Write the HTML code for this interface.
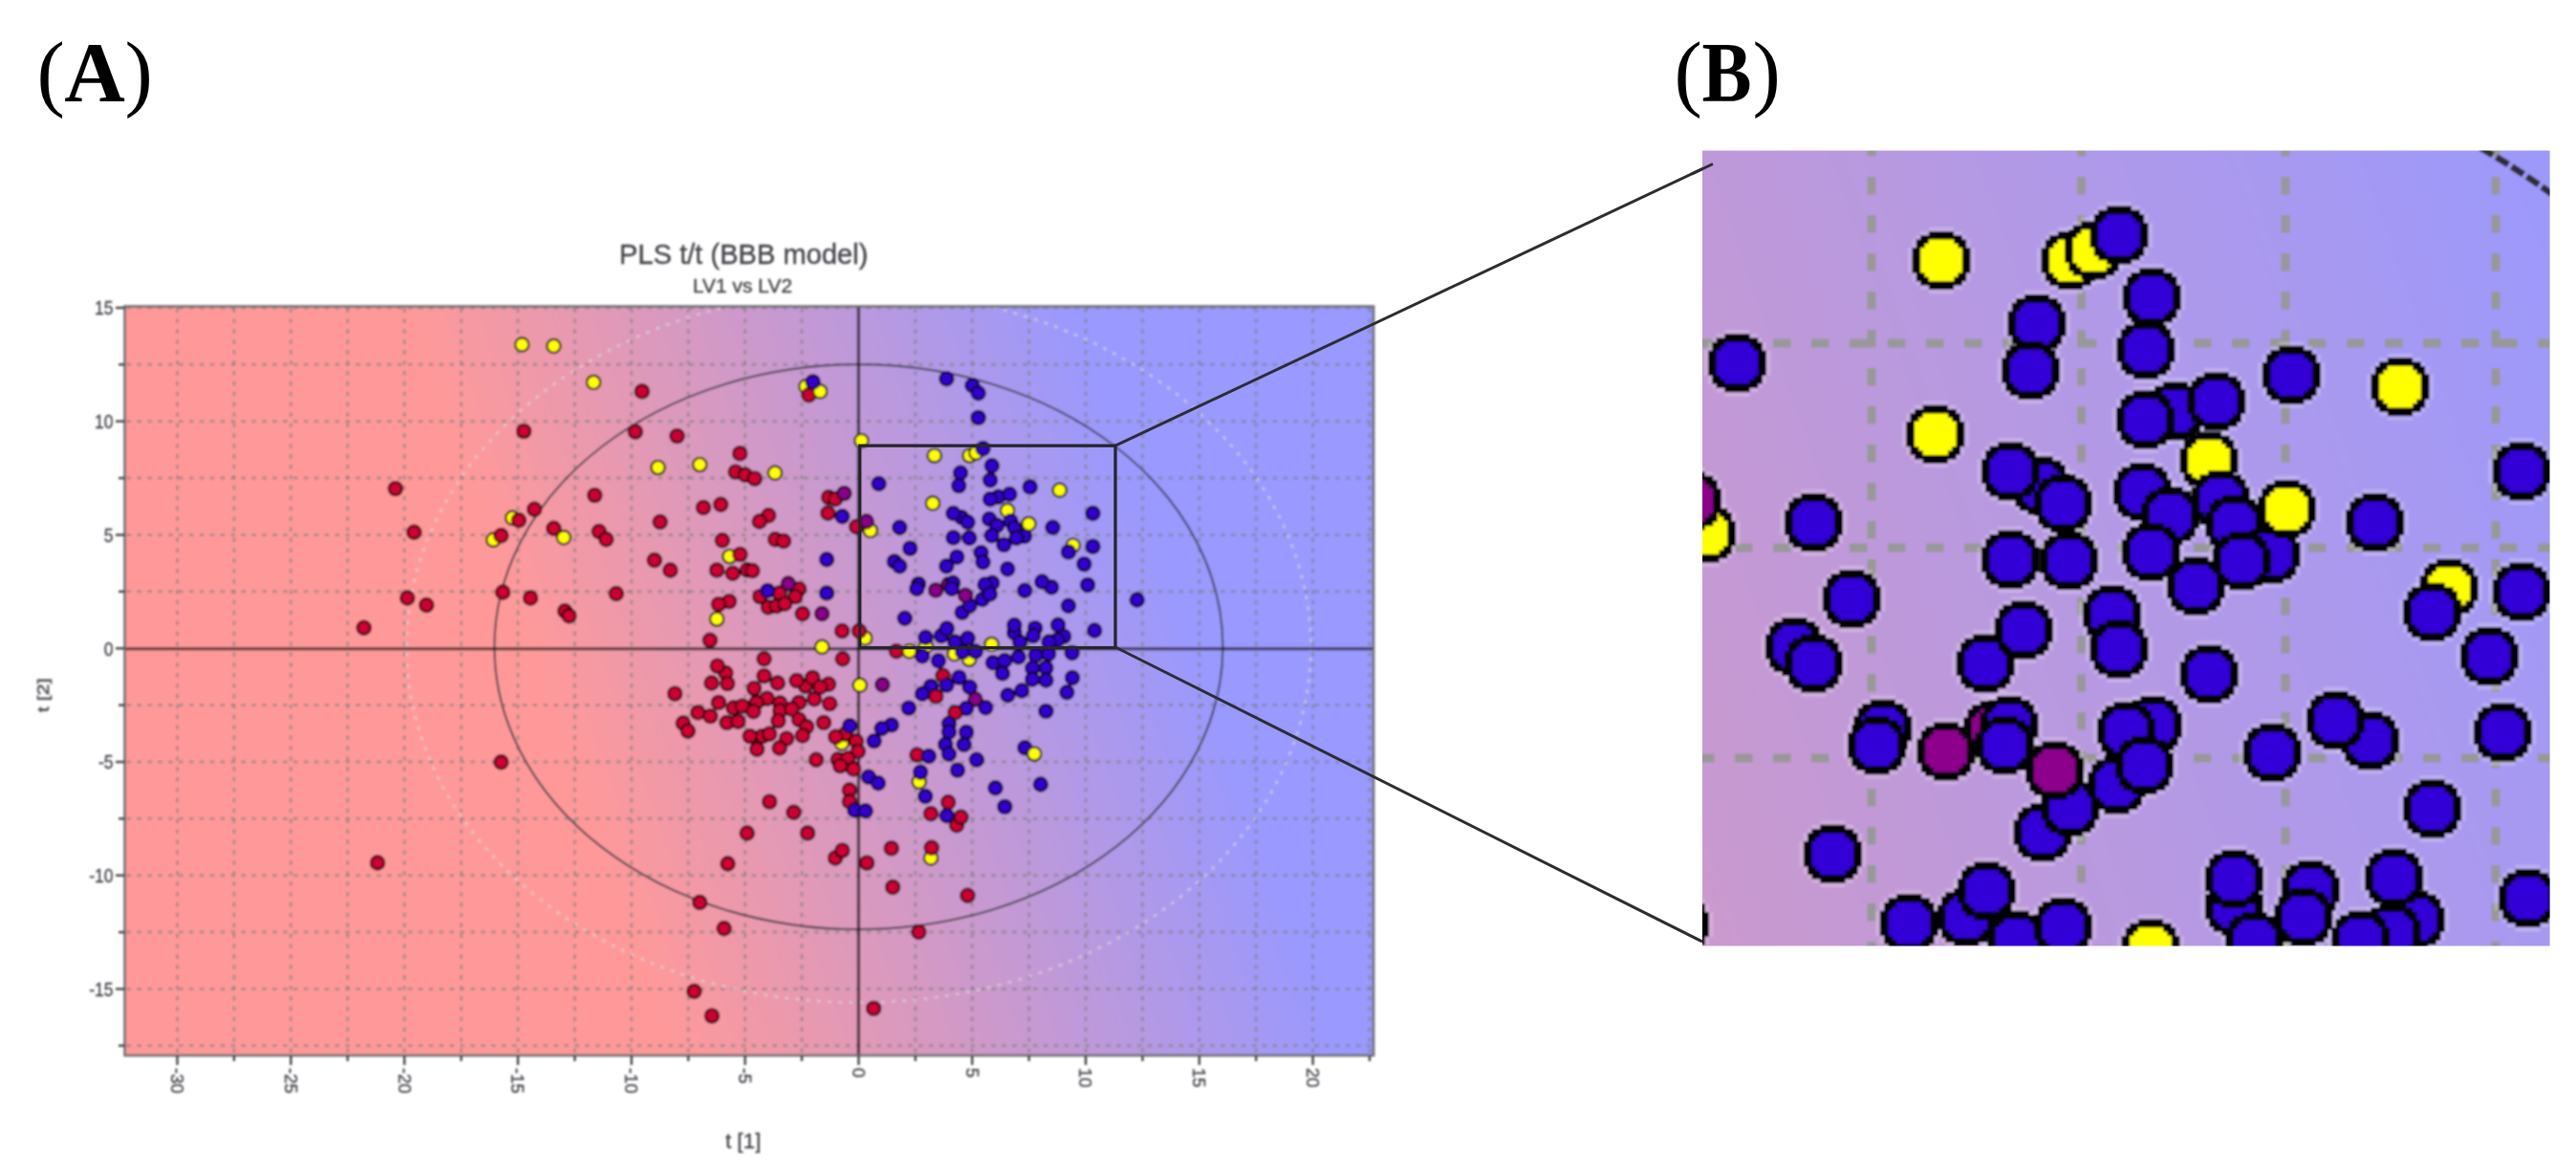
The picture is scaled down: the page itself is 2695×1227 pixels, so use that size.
<!DOCTYPE html>
<html lang="en"><head><meta charset="utf-8"><title>PLS t/t (BBB model)</title>
<style>html,body{margin:0;padding:0;background:#fff}body{width:2695px;height:1227px;overflow:hidden}svg{display:block}.ser{font-family:"Liberation Serif",serif;font-size:88px;fill:#000}.san{font-family:"Liberation Sans",sans-serif;fill:#43434a;stroke:#43434a;stroke-width:0.35px}</style></head><body>
<svg width="2695" height="1227" viewBox="0 0 2695 1227">
<defs>
<linearGradient id="ga" gradientUnits="userSpaceOnUse" x1="423.6" y1="320.5" x2="1050.5" y2="99.2"><stop offset="0" stop-color="#ff9999"/><stop offset="1" stop-color="#9999ff"/></linearGradient>
<linearGradient id="gb" gradientUnits="userSpaceOnUse" x1="0.9" y1="-296.7" x2="2298.0" y2="-1103.8"><stop offset="0" stop-color="#ff9999"/><stop offset="1" stop-color="#9999ff"/></linearGradient>
<clipPath id="ca"><rect x="130.5" y="320.5" width="1306.5" height="783.5"/></clipPath>
<clipPath id="cb"><rect x="1781" y="157.5" width="886.6" height="832"/></clipPath>
<filter id="bl" x="-5%" y="-5%" width="110%" height="110%"><feGaussianBlur stdDeviation="0.9"/></filter>
<filter id="bl2" x="-5%" y="-5%" width="110%" height="110%"><feGaussianBlur stdDeviation="1.3"/></filter>
<path id="ob" d="M13.1,-30.5 13.1,-26.2 21.8,-26.2 21.8,-21.8 26.2,-21.8 26.2,-17.4 26.2,-17.4 26.2,-13.1 30.5,-13.1 30.5,-8.7 30.5,-8.7 30.5,-4.4 30.5,-4.4 30.5,0.0 30.5,0.0 30.5,4.4 30.5,4.4 30.5,8.7 30.5,8.7 30.5,13.1 26.2,13.1 26.2,17.4 26.2,17.4 26.2,21.8 21.8,21.8 21.8,26.2 13.1,26.2 13.1,30.5 -13.1,30.5 -13.1,26.2 -21.8,26.2 -21.8,21.8 -26.2,21.8 -26.2,17.4 -26.2,17.4 -26.2,13.1 -30.5,13.1 -30.5,8.7 -30.5,8.7 -30.5,4.4 -30.5,4.4 -30.5,0.0 -30.5,0.0 -30.5,-4.4 -30.5,-4.4 -30.5,-8.7 -30.5,-8.7 -30.5,-13.1 -26.2,-13.1 -26.2,-17.4 -26.2,-17.4 -26.2,-21.8 -21.8,-21.8 -21.8,-26.2 -13.1,-26.2 -13.1,-30.5Z"/>
<path id="hb" d="M13.1,-34.9 13.1,-30.5 21.8,-30.5 21.8,-26.2 26.2,-26.2 26.2,-21.8 30.5,-21.8 30.5,-17.4 30.5,-17.4 30.5,-13.1 34.9,-13.1 34.9,-8.7 34.9,-8.7 34.9,-4.4 34.9,-4.4 34.9,0.0 34.9,0.0 34.9,4.4 34.9,4.4 34.9,8.7 34.9,8.7 34.9,13.1 30.5,13.1 30.5,17.4 30.5,17.4 30.5,21.8 26.2,21.8 26.2,26.2 21.8,26.2 21.8,30.5 13.1,30.5 13.1,34.9 -13.1,34.9 -13.1,30.5 -21.8,30.5 -21.8,26.2 -26.2,26.2 -26.2,21.8 -30.5,21.8 -30.5,17.4 -30.5,17.4 -30.5,13.1 -34.9,13.1 -34.9,8.7 -34.9,8.7 -34.9,4.4 -34.9,4.4 -34.9,0.0 -34.9,0.0 -34.9,-4.4 -34.9,-4.4 -34.9,-8.7 -34.9,-8.7 -34.9,-13.1 -30.5,-13.1 -30.5,-17.4 -30.5,-17.4 -30.5,-21.8 -26.2,-21.8 -26.2,-26.2 -21.8,-26.2 -21.8,-30.5 -13.1,-30.5 -13.1,-34.9Z"/>
<path id="ib" d="M13.1,-21.8 13.1,-17.4 17.4,-17.4 17.4,-13.1 21.8,-13.1 21.8,-8.7 21.8,-8.7 21.8,-4.4 21.8,-4.4 21.8,0.0 21.8,0.0 21.8,4.4 21.8,4.4 21.8,8.7 21.8,8.7 21.8,13.1 17.4,13.1 17.4,17.4 13.1,17.4 13.1,21.8 -13.1,21.8 -13.1,17.4 -17.4,17.4 -17.4,13.1 -21.8,13.1 -21.8,8.7 -21.8,8.7 -21.8,4.4 -21.8,4.4 -21.8,0.0 -21.8,0.0 -21.8,-4.4 -21.8,-4.4 -21.8,-8.7 -21.8,-8.7 -21.8,-13.1 -17.4,-13.1 -17.4,-17.4 -13.1,-17.4 -13.1,-21.8Z"/>
</defs>
<rect width="2695" height="1227" fill="#fff"/>
<g filter="url(#bl)">
<rect x="130.5" y="320.5" width="1306.5" height="783.5" fill="url(#ga)"/>
<g clip-path="url(#ca)">
<g stroke="#7f7f7f" stroke-opacity="0.6" stroke-width="3" stroke-dasharray="4.6 6.3" fill="none">
<path d="M185.5 322.5V1104.0"/>
<path d="M244.9 322.5V1104.0"/>
<path d="M304.3 322.5V1104.0"/>
<path d="M363.7 322.5V1104.0"/>
<path d="M423.1 322.5V1104.0"/>
<path d="M482.5 322.5V1104.0"/>
<path d="M541.9 322.5V1104.0"/>
<path d="M601.3 322.5V1104.0"/>
<path d="M660.7 322.5V1104.0"/>
<path d="M720.1 322.5V1104.0"/>
<path d="M779.5 322.5V1104.0"/>
<path d="M838.9 322.5V1104.0"/>
<path d="M957.7 322.5V1104.0"/>
<path d="M1017.1 322.5V1104.0"/>
<path d="M1076.5 322.5V1104.0"/>
<path d="M1135.9 322.5V1104.0"/>
<path d="M1195.3 322.5V1104.0"/>
<path d="M1254.7 322.5V1104.0"/>
<path d="M1314.1 322.5V1104.0"/>
<path d="M1373.5 322.5V1104.0"/>
<path d="M1432.9 322.5V1104.0"/>
<path d="M132.5 322.0H1437.0"/>
<path d="M132.5 381.3H1437.0"/>
<path d="M132.5 440.7H1437.0"/>
<path d="M132.5 500.1H1437.0"/>
<path d="M132.5 559.5H1437.0"/>
<path d="M132.5 618.8H1437.0"/>
<path d="M132.5 737.6H1437.0"/>
<path d="M132.5 797.0H1437.0"/>
<path d="M132.5 856.3H1437.0"/>
<path d="M132.5 915.7H1437.0"/>
<path d="M132.5 975.1H1437.0"/>
<path d="M132.5 1034.5H1437.0"/>
<path d="M132.5 1093.8H1437.0"/>
</g>
<ellipse cx="898.3" cy="676.7" rx="473" ry="372" fill="none" stroke="#ddd6da" stroke-opacity="0.62" stroke-width="2.8" stroke-dasharray="4 7.2"/>
<ellipse cx="898.3" cy="676.7" rx="381" ry="295.5" fill="none" stroke="#3c3c46" stroke-opacity="0.85" stroke-width="2.2"/>
<path d="M130.5 678.6H1437.0" stroke="#0c0608" stroke-opacity="0.66" stroke-width="3.4"/>
<path d="M898.3 320.5V1104.0" stroke="#0c0608" stroke-opacity="0.68" stroke-width="3.4"/>
</g>
<rect x="130.5" y="320.5" width="1306.5" height="783.5" fill="none" stroke="#6e6e72" stroke-width="2.6"/>
<g stroke="#444" stroke-width="2.4">
<path d="M121.0 322.0H130.5"/>
<path d="M124.0 381.3H130.5"/>
<path d="M121.0 440.7H130.5"/>
<path d="M124.0 500.1H130.5"/>
<path d="M121.0 559.5H130.5"/>
<path d="M124.0 618.8H130.5"/>
<path d="M121.0 678.2H130.5"/>
<path d="M124.0 737.6H130.5"/>
<path d="M121.0 797.0H130.5"/>
<path d="M124.0 856.3H130.5"/>
<path d="M121.0 915.7H130.5"/>
<path d="M124.0 975.1H130.5"/>
<path d="M121.0 1034.5H130.5"/>
<path d="M124.0 1093.8H130.5"/>
<path d="M185.5 1104.0V1114.0"/>
<path d="M244.9 1104.0V1110.0"/>
<path d="M304.3 1104.0V1114.0"/>
<path d="M363.7 1104.0V1110.0"/>
<path d="M423.1 1104.0V1114.0"/>
<path d="M482.5 1104.0V1110.0"/>
<path d="M541.9 1104.0V1114.0"/>
<path d="M601.3 1104.0V1110.0"/>
<path d="M660.7 1104.0V1114.0"/>
<path d="M720.1 1104.0V1110.0"/>
<path d="M779.5 1104.0V1114.0"/>
<path d="M838.9 1104.0V1110.0"/>
<path d="M898.3 1104.0V1114.0"/>
<path d="M957.7 1104.0V1110.0"/>
<path d="M1017.1 1104.0V1114.0"/>
<path d="M1076.5 1104.0V1110.0"/>
<path d="M1135.9 1104.0V1114.0"/>
<path d="M1195.3 1104.0V1110.0"/>
<path d="M1254.7 1104.0V1114.0"/>
<path d="M1314.1 1104.0V1110.0"/>
<path d="M1373.5 1104.0V1114.0"/>
<path d="M1432.9 1104.0V1110.0"/>
</g>
<g stroke="#33000d" stroke-width="2.2">
<circle cx="546.1" cy="360.5" r="7.1" fill="#ffff00" stroke="#1c1c04"/>
<circle cx="579.3" cy="362.0" r="7.1" fill="#ffff00" stroke="#1c1c04"/>
<circle cx="621.0" cy="399.9" r="7.1" fill="#ffff00" stroke="#1c1c04"/>
<circle cx="671.7" cy="409.4" r="7.1" fill="#cc0033" stroke="#1c0006"/>
<circle cx="548.1" cy="451.1" r="7.1" fill="#cc0033" stroke="#1c0006"/>
<circle cx="664.7" cy="451.6" r="7.1" fill="#cc0033" stroke="#1c0006"/>
<circle cx="708.4" cy="456.1" r="7.1" fill="#cc0033" stroke="#1c0006"/>
<circle cx="774.1" cy="474.4" r="7.1" fill="#cc0033" stroke="#1c0006"/>
<circle cx="688.4" cy="489.1" r="7.1" fill="#ffff00" stroke="#1c1c04"/>
<circle cx="732.1" cy="486.1" r="7.1" fill="#ffff00" stroke="#1c1c04"/>
<circle cx="769.6" cy="493.6" r="7.1" fill="#cc0033" stroke="#1c0006"/>
<circle cx="779.6" cy="496.8" r="7.1" fill="#cc0033" stroke="#1c0006"/>
<circle cx="789.6" cy="500.6" r="7.1" fill="#cc0033" stroke="#1c0006"/>
<circle cx="810.8" cy="494.8" r="7.1" fill="#ffff00" stroke="#1c1c04"/>
<circle cx="413.7" cy="511.1" r="7.1" fill="#cc0033" stroke="#1c0006"/>
<circle cx="622.2" cy="518.1" r="7.1" fill="#cc0033" stroke="#1c0006"/>
<circle cx="559.1" cy="532.8" r="7.1" fill="#cc0033" stroke="#1c0006"/>
<circle cx="536.1" cy="541.8" r="7.1" fill="#ffff00" stroke="#1c1c04"/>
<circle cx="542.8" cy="544.3" r="7.1" fill="#cc0033" stroke="#1c0006"/>
<circle cx="735.9" cy="531.0" r="7.1" fill="#cc0033" stroke="#1c0006"/>
<circle cx="754.1" cy="527.8" r="7.1" fill="#cc0033" stroke="#1c0006"/>
<circle cx="804.1" cy="539.3" r="7.1" fill="#cc0033" stroke="#1c0006"/>
<circle cx="794.6" cy="545.5" r="7.1" fill="#cc0033" stroke="#1c0006"/>
<circle cx="690.6" cy="546.0" r="7.1" fill="#cc0033" stroke="#1c0006"/>
<circle cx="433.2" cy="556.8" r="7.1" fill="#cc0033" stroke="#1c0006"/>
<circle cx="579.3" cy="552.8" r="7.1" fill="#cc0033" stroke="#1c0006"/>
<circle cx="589.8" cy="562.3" r="7.1" fill="#ffff00" stroke="#1c1c04"/>
<circle cx="626.7" cy="556.0" r="7.1" fill="#cc0033" stroke="#1c0006"/>
<circle cx="634.2" cy="564.3" r="7.1" fill="#cc0033" stroke="#1c0006"/>
<circle cx="516.1" cy="564.8" r="7.1" fill="#ffff00" stroke="#1c1c04"/>
<circle cx="524.3" cy="560.3" r="7.1" fill="#cc0033" stroke="#1c0006"/>
<circle cx="755.7" cy="565.3" r="7.1" fill="#cc0033" stroke="#1c0006"/>
<circle cx="811.0" cy="564.3" r="7.1" fill="#cc0033" stroke="#1c0006"/>
<circle cx="819.8" cy="566.0" r="7.1" fill="#cc0033" stroke="#1c0006"/>
<circle cx="763.3" cy="582.1" r="7.1" fill="#ffff00" stroke="#1c1c04"/>
<circle cx="774.3" cy="580.0" r="7.1" fill="#cc0033" stroke="#1c0006"/>
<circle cx="684.7" cy="586.0" r="7.1" fill="#cc0033" stroke="#1c0006"/>
<circle cx="701.3" cy="596.5" r="7.1" fill="#cc0033" stroke="#1c0006"/>
<circle cx="750.0" cy="596.4" r="7.1" fill="#cc0033" stroke="#1c0006"/>
<circle cx="766.6" cy="599.8" r="7.1" fill="#cc0033" stroke="#1c0006"/>
<circle cx="781.7" cy="596.2" r="7.1" fill="#cc0033" stroke="#1c0006"/>
<circle cx="787.2" cy="597.0" r="7.1" fill="#cc0033" stroke="#1c0006"/>
<circle cx="426.2" cy="625.5" r="7.1" fill="#cc0033" stroke="#1c0006"/>
<circle cx="526.1" cy="619.5" r="7.1" fill="#cc0033" stroke="#1c0006"/>
<circle cx="555.0" cy="625.5" r="7.1" fill="#cc0033" stroke="#1c0006"/>
<circle cx="644.7" cy="621.0" r="7.1" fill="#cc0033" stroke="#1c0006"/>
<circle cx="843.2" cy="404.3" r="7.1" fill="#ffff00" stroke="#1c1c04"/>
<circle cx="846.2" cy="413.2" r="7.1" fill="#cc0033" stroke="#1c0006"/>
<circle cx="858.0" cy="409.4" r="7.1" fill="#ffff00" stroke="#1c1c04"/>
<circle cx="850.5" cy="399.4" r="7.1" fill="#3300cc" stroke="#07001c"/>
<circle cx="990.3" cy="396.2" r="7.1" fill="#3300cc" stroke="#07001c"/>
<circle cx="1017.3" cy="403.2" r="7.1" fill="#3300cc" stroke="#07001c"/>
<circle cx="1023.5" cy="411.2" r="7.1" fill="#3300cc" stroke="#07001c"/>
<circle cx="1023.5" cy="436.9" r="7.1" fill="#3300cc" stroke="#07001c"/>
<circle cx="901.2" cy="461.1" r="7.1" fill="#ffff00" stroke="#1c1c04"/>
<circle cx="866.9" cy="520.3" r="7.1" fill="#cc0033" stroke="#1c0006"/>
<circle cx="874.0" cy="522.0" r="7.1" fill="#cc0033" stroke="#1c0006"/>
<circle cx="883.2" cy="516.1" r="7.1" fill="#880088" stroke="#140014"/>
<circle cx="866.2" cy="536.8" r="7.1" fill="#cc0033" stroke="#1c0006"/>
<circle cx="881.2" cy="540.3" r="7.1" fill="#3300cc" stroke="#07001c"/>
<circle cx="896.0" cy="551.0" r="7.1" fill="#cc0033" stroke="#1c0006"/>
<circle cx="864.9" cy="585.2" r="7.1" fill="#3300cc" stroke="#07001c"/>
<circle cx="815.5" cy="620.4" r="7.1" fill="#cc0033" stroke="#1c0006"/>
<circle cx="835.9" cy="616.1" r="7.1" fill="#cc0033" stroke="#1c0006"/>
<circle cx="832.1" cy="624.1" r="7.1" fill="#cc0033" stroke="#1c0006"/>
<circle cx="795.1" cy="624.1" r="7.1" fill="#cc0033" stroke="#1c0006"/>
<circle cx="803.7" cy="635.2" r="7.1" fill="#cc0033" stroke="#1c0006"/>
<circle cx="812.4" cy="634.0" r="7.1" fill="#cc0033" stroke="#1c0006"/>
<circle cx="821.0" cy="631.5" r="7.1" fill="#cc0033" stroke="#1c0006"/>
<circle cx="803.1" cy="617.9" r="7.1" fill="#3300cc" stroke="#07001c"/>
<circle cx="824.7" cy="610.5" r="7.1" fill="#880088" stroke="#140014"/>
<circle cx="864.9" cy="620.4" r="7.1" fill="#3300cc" stroke="#07001c"/>
<circle cx="839.6" cy="642.0" r="7.1" fill="#cc0033" stroke="#1c0006"/>
<circle cx="860.0" cy="642.0" r="7.1" fill="#880088" stroke="#140014"/>
<circle cx="762.9" cy="629.1" r="7.1" fill="#cc0033" stroke="#1c0006"/>
<circle cx="751.8" cy="632.1" r="7.1" fill="#cc0033" stroke="#1c0006"/>
<circle cx="750.0" cy="647.6" r="7.1" fill="#ffff00" stroke="#1c1c04"/>
<circle cx="742.8" cy="669.8" r="7.1" fill="#cc0033" stroke="#1c0006"/>
<circle cx="881.0" cy="660.0" r="7.1" fill="#cc0033" stroke="#1c0006"/>
<circle cx="905.0" cy="667.4" r="7.1" fill="#ffff00" stroke="#1c1c04"/>
<circle cx="898.9" cy="660.0" r="7.1" fill="#cc0033" stroke="#1c0006"/>
<circle cx="860.0" cy="676.7" r="7.1" fill="#ffff00" stroke="#1c1c04"/>
<circle cx="1189.6" cy="627.5" r="7.1" fill="#3300cc" stroke="#07001c"/>
<circle cx="446.2" cy="633.0" r="7.1" fill="#cc0033" stroke="#1c0006"/>
<circle cx="380.7" cy="656.7" r="7.1" fill="#cc0033" stroke="#1c0006"/>
<circle cx="591.0" cy="639.2" r="7.1" fill="#cc0033" stroke="#1c0006"/>
<circle cx="595.3" cy="644.2" r="7.1" fill="#cc0033" stroke="#1c0006"/>
<circle cx="524.3" cy="797.3" r="7.1" fill="#cc0033" stroke="#1c0006"/>
<circle cx="395.0" cy="902.5" r="7.1" fill="#cc0033" stroke="#1c0006"/>
<circle cx="799.4" cy="689.2" r="7.1" fill="#cc0033" stroke="#1c0006"/>
<circle cx="881.6" cy="689.2" r="7.1" fill="#cc0033" stroke="#1c0006"/>
<circle cx="759.2" cy="704.0" r="7.1" fill="#cc0033" stroke="#1c0006"/>
<circle cx="750.6" cy="696.6" r="7.1" fill="#cc0033" stroke="#1c0006"/>
<circle cx="744.4" cy="714.5" r="7.1" fill="#cc0033" stroke="#1c0006"/>
<circle cx="761.1" cy="715.1" r="7.1" fill="#cc0033" stroke="#1c0006"/>
<circle cx="706.1" cy="725.6" r="7.1" fill="#cc0033" stroke="#1c0006"/>
<circle cx="799.4" cy="707.1" r="7.1" fill="#cc0033" stroke="#1c0006"/>
<circle cx="813.6" cy="714.5" r="7.1" fill="#cc0033" stroke="#1c0006"/>
<circle cx="788.9" cy="720.1" r="7.1" fill="#cc0033" stroke="#1c0006"/>
<circle cx="842.7" cy="717.6" r="7.1" fill="#cc0033" stroke="#1c0006"/>
<circle cx="833.4" cy="712.0" r="7.1" fill="#cc0033" stroke="#1c0006"/>
<circle cx="866.8" cy="715.7" r="7.1" fill="#cc0033" stroke="#1c0006"/>
<circle cx="850.1" cy="708.9" r="7.1" fill="#cc0033" stroke="#1c0006"/>
<circle cx="858.1" cy="718.8" r="7.1" fill="#cc0033" stroke="#1c0006"/>
<circle cx="802.5" cy="730.6" r="7.1" fill="#cc0033" stroke="#1c0006"/>
<circle cx="791.4" cy="734.9" r="7.1" fill="#cc0033" stroke="#1c0006"/>
<circle cx="751.8" cy="734.9" r="7.1" fill="#cc0033" stroke="#1c0006"/>
<circle cx="767.3" cy="740.5" r="7.1" fill="#cc0033" stroke="#1c0006"/>
<circle cx="776.5" cy="738.6" r="7.1" fill="#cc0033" stroke="#1c0006"/>
<circle cx="835.9" cy="734.9" r="7.1" fill="#cc0033" stroke="#1c0006"/>
<circle cx="851.9" cy="731.2" r="7.1" fill="#cc0033" stroke="#1c0006"/>
<circle cx="868.0" cy="736.1" r="7.1" fill="#cc0033" stroke="#1c0006"/>
<circle cx="816.1" cy="735.5" r="7.1" fill="#cc0033" stroke="#1c0006"/>
<circle cx="816.1" cy="743.5" r="7.1" fill="#cc0033" stroke="#1c0006"/>
<circle cx="828.4" cy="741.7" r="7.1" fill="#cc0033" stroke="#1c0006"/>
<circle cx="788.3" cy="744.2" r="7.1" fill="#cc0033" stroke="#1c0006"/>
<circle cx="730.2" cy="745.4" r="7.1" fill="#cc0033" stroke="#1c0006"/>
<circle cx="743.2" cy="749.1" r="7.1" fill="#cc0033" stroke="#1c0006"/>
<circle cx="760.5" cy="755.9" r="7.1" fill="#cc0033" stroke="#1c0006"/>
<circle cx="772.2" cy="754.7" r="7.1" fill="#cc0033" stroke="#1c0006"/>
<circle cx="714.7" cy="756.5" r="7.1" fill="#cc0033" stroke="#1c0006"/>
<circle cx="719.7" cy="764.6" r="7.1" fill="#cc0033" stroke="#1c0006"/>
<circle cx="814.2" cy="754.1" r="7.1" fill="#cc0033" stroke="#1c0006"/>
<circle cx="835.9" cy="752.8" r="7.1" fill="#cc0033" stroke="#1c0006"/>
<circle cx="861.8" cy="755.9" r="7.1" fill="#cc0033" stroke="#1c0006"/>
<circle cx="843.9" cy="760.2" r="7.1" fill="#cc0033" stroke="#1c0006"/>
<circle cx="797.5" cy="770.1" r="7.1" fill="#cc0033" stroke="#1c0006"/>
<circle cx="784.6" cy="770.1" r="7.1" fill="#cc0033" stroke="#1c0006"/>
<circle cx="805.0" cy="767.7" r="7.1" fill="#cc0033" stroke="#1c0006"/>
<circle cx="839.6" cy="769.5" r="7.1" fill="#cc0033" stroke="#1c0006"/>
<circle cx="822.9" cy="772.6" r="7.1" fill="#cc0033" stroke="#1c0006"/>
<circle cx="792.0" cy="783.7" r="7.1" fill="#cc0033" stroke="#1c0006"/>
<circle cx="815.5" cy="782.5" r="7.1" fill="#cc0033" stroke="#1c0006"/>
<circle cx="880.6" cy="777.2" r="7.1" fill="#ffff00" stroke="#1c1c04"/>
<circle cx="884.1" cy="767.7" r="7.1" fill="#cc0033" stroke="#1c0006"/>
<circle cx="874.2" cy="770.7" r="7.1" fill="#cc0033" stroke="#1c0006"/>
<circle cx="889.0" cy="759.3" r="7.1" fill="#3300cc" stroke="#07001c"/>
<circle cx="895.8" cy="775.3" r="7.1" fill="#cc0033" stroke="#1c0006"/>
<circle cx="897.7" cy="786.0" r="7.1" fill="#cc0033" stroke="#1c0006"/>
<circle cx="853.9" cy="794.7" r="7.1" fill="#cc0033" stroke="#1c0006"/>
<circle cx="876.6" cy="794.5" r="7.1" fill="#cc0033" stroke="#1c0006"/>
<circle cx="887.1" cy="793.4" r="7.1" fill="#cc0033" stroke="#1c0006"/>
<circle cx="879.0" cy="801.1" r="7.1" fill="#cc0033" stroke="#1c0006"/>
<circle cx="893.0" cy="804.4" r="7.1" fill="#cc0033" stroke="#1c0006"/>
<circle cx="968.8" cy="675.7" r="7.1" fill="#ffff00" stroke="#1c1c04"/>
<circle cx="937.8" cy="681.2" r="7.1" fill="#cc0033" stroke="#1c0006"/>
<circle cx="951.4" cy="681.2" r="7.1" fill="#ffff00" stroke="#1c1c04"/>
<circle cx="964.9" cy="686.2" r="7.1" fill="#3300cc" stroke="#07001c"/>
<circle cx="981.8" cy="691.3" r="7.1" fill="#3300cc" stroke="#07001c"/>
<circle cx="998.5" cy="684.0" r="7.1" fill="#ffff00" stroke="#1c1c04"/>
<circle cx="1014.0" cy="689.6" r="7.1" fill="#ffff00" stroke="#1c1c04"/>
<circle cx="1007.1" cy="681.9" r="7.1" fill="#3300cc" stroke="#07001c"/>
<circle cx="1020.5" cy="681.5" r="7.1" fill="#3300cc" stroke="#07001c"/>
<circle cx="1038.8" cy="693.2" r="7.1" fill="#3300cc" stroke="#07001c"/>
<circle cx="1051.2" cy="691.0" r="7.1" fill="#3300cc" stroke="#07001c"/>
<circle cx="1065.5" cy="687.2" r="7.1" fill="#3300cc" stroke="#07001c"/>
<circle cx="1048.8" cy="704.4" r="7.1" fill="#3300cc" stroke="#07001c"/>
<circle cx="1083.6" cy="685.5" r="7.1" fill="#3300cc" stroke="#07001c"/>
<circle cx="1097.0" cy="684.0" r="7.1" fill="#3300cc" stroke="#07001c"/>
<circle cx="1121.6" cy="683.0" r="7.1" fill="#3300cc" stroke="#07001c"/>
<circle cx="1080.1" cy="699.0" r="7.1" fill="#3300cc" stroke="#07001c"/>
<circle cx="1094.3" cy="698.6" r="7.1" fill="#3300cc" stroke="#07001c"/>
<circle cx="1080.1" cy="710.5" r="7.1" fill="#3300cc" stroke="#07001c"/>
<circle cx="1094.3" cy="711.5" r="7.1" fill="#3300cc" stroke="#07001c"/>
<circle cx="1121.9" cy="709.0" r="7.1" fill="#3300cc" stroke="#07001c"/>
<circle cx="1116.2" cy="724.2" r="7.1" fill="#3300cc" stroke="#07001c"/>
<circle cx="1069.0" cy="722.5" r="7.1" fill="#3300cc" stroke="#07001c"/>
<circle cx="1054.3" cy="727.3" r="7.1" fill="#3300cc" stroke="#07001c"/>
<circle cx="899.6" cy="716.7" r="7.1" fill="#ffff00" stroke="#1c1c04"/>
<circle cx="923.2" cy="716.3" r="7.1" fill="#880088" stroke="#140014"/>
<circle cx="986.5" cy="706.8" r="7.1" fill="#cc0033" stroke="#1c0006"/>
<circle cx="1003.4" cy="708.6" r="7.1" fill="#3300cc" stroke="#07001c"/>
<circle cx="990.4" cy="716.6" r="7.1" fill="#3300cc" stroke="#07001c"/>
<circle cx="973.9" cy="717.9" r="7.1" fill="#3300cc" stroke="#07001c"/>
<circle cx="1014.5" cy="718.8" r="7.1" fill="#3300cc" stroke="#07001c"/>
<circle cx="965.0" cy="725.8" r="7.1" fill="#3300cc" stroke="#07001c"/>
<circle cx="979.2" cy="728.4" r="7.1" fill="#cc0033" stroke="#1c0006"/>
<circle cx="1020.4" cy="731.5" r="7.1" fill="#880088" stroke="#140014"/>
<circle cx="950.7" cy="740.6" r="7.1" fill="#3300cc" stroke="#07001c"/>
<circle cx="1010.9" cy="741.0" r="7.1" fill="#3300cc" stroke="#07001c"/>
<circle cx="1031.2" cy="740.3" r="7.1" fill="#3300cc" stroke="#07001c"/>
<circle cx="999.3" cy="745.4" r="7.1" fill="#cc0033" stroke="#1c0006"/>
<circle cx="1094.3" cy="743.9" r="7.1" fill="#3300cc" stroke="#07001c"/>
<circle cx="932.6" cy="758.4" r="7.1" fill="#3300cc" stroke="#07001c"/>
<circle cx="922.5" cy="762.0" r="7.1" fill="#3300cc" stroke="#07001c"/>
<circle cx="914.5" cy="775.1" r="7.1" fill="#3300cc" stroke="#07001c"/>
<circle cx="992.8" cy="757.0" r="7.1" fill="#3300cc" stroke="#07001c"/>
<circle cx="992.8" cy="765.7" r="7.1" fill="#3300cc" stroke="#07001c"/>
<circle cx="1010.9" cy="766.0" r="7.1" fill="#3300cc" stroke="#07001c"/>
<circle cx="989.1" cy="778.7" r="7.1" fill="#3300cc" stroke="#07001c"/>
<circle cx="1008.5" cy="778.9" r="7.1" fill="#3300cc" stroke="#07001c"/>
<circle cx="992.8" cy="788.8" r="7.1" fill="#3300cc" stroke="#07001c"/>
<circle cx="959.4" cy="789.6" r="7.1" fill="#cc0033" stroke="#1c0006"/>
<circle cx="971.7" cy="791.0" r="7.1" fill="#3300cc" stroke="#07001c"/>
<circle cx="1021.7" cy="794.7" r="7.1" fill="#3300cc" stroke="#07001c"/>
<circle cx="1001.8" cy="805.6" r="7.1" fill="#3300cc" stroke="#07001c"/>
<circle cx="961.6" cy="817.8" r="7.1" fill="#ffff00" stroke="#1c1c04"/>
<circle cx="963.0" cy="807.7" r="7.1" fill="#3300cc" stroke="#07001c"/>
<circle cx="908.7" cy="812.8" r="7.1" fill="#3300cc" stroke="#07001c"/>
<circle cx="918.8" cy="819.3" r="7.1" fill="#3300cc" stroke="#07001c"/>
<circle cx="1041.4" cy="824.2" r="7.1" fill="#3300cc" stroke="#07001c"/>
<circle cx="968.1" cy="833.0" r="7.1" fill="#3300cc" stroke="#07001c"/>
<circle cx="992.0" cy="839.2" r="7.1" fill="#cc0033" stroke="#1c0006"/>
<circle cx="1051.2" cy="843.9" r="7.1" fill="#3300cc" stroke="#07001c"/>
<circle cx="1072.2" cy="782.3" r="7.1" fill="#3300cc" stroke="#07001c"/>
<circle cx="1082.1" cy="788.6" r="7.1" fill="#ffff00" stroke="#1c1c04"/>
<circle cx="1088.7" cy="820.5" r="7.1" fill="#3300cc" stroke="#07001c"/>
<circle cx="888.7" cy="826.5" r="7.1" fill="#cc0033" stroke="#1c0006"/>
<circle cx="888.7" cy="838.5" r="7.1" fill="#cc0033" stroke="#1c0006"/>
<circle cx="894.2" cy="847.5" r="7.1" fill="#3300cc" stroke="#07001c"/>
<circle cx="905.5" cy="848.3" r="7.1" fill="#3300cc" stroke="#07001c"/>
<circle cx="805.1" cy="838.6" r="7.1" fill="#cc0033" stroke="#1c0006"/>
<circle cx="830.4" cy="849.7" r="7.1" fill="#cc0033" stroke="#1c0006"/>
<circle cx="844.9" cy="871.4" r="7.1" fill="#cc0033" stroke="#1c0006"/>
<circle cx="781.6" cy="871.5" r="7.1" fill="#cc0033" stroke="#1c0006"/>
<circle cx="761.4" cy="903.5" r="7.1" fill="#cc0033" stroke="#1c0006"/>
<circle cx="973.9" cy="851.2" r="7.1" fill="#cc0033" stroke="#1c0006"/>
<circle cx="990.6" cy="853.3" r="7.1" fill="#3300cc" stroke="#07001c"/>
<circle cx="1000.9" cy="863.2" r="7.1" fill="#cc0033" stroke="#1c0006"/>
<circle cx="1005.4" cy="854.8" r="7.1" fill="#cc0033" stroke="#1c0006"/>
<circle cx="873.9" cy="897.5" r="7.1" fill="#cc0033" stroke="#1c0006"/>
<circle cx="881.2" cy="889.6" r="7.1" fill="#cc0033" stroke="#1c0006"/>
<circle cx="907.0" cy="902.6" r="7.1" fill="#cc0033" stroke="#1c0006"/>
<circle cx="932.6" cy="887.4" r="7.1" fill="#cc0033" stroke="#1c0006"/>
<circle cx="973.9" cy="897.5" r="7.1" fill="#ffff00" stroke="#1c1c04"/>
<circle cx="974.6" cy="886.7" r="7.1" fill="#cc0033" stroke="#1c0006"/>
<circle cx="934.0" cy="928.0" r="7.1" fill="#cc0033" stroke="#1c0006"/>
<circle cx="1012.3" cy="936.8" r="7.1" fill="#cc0033" stroke="#1c0006"/>
<circle cx="961.3" cy="975.0" r="7.1" fill="#cc0033" stroke="#1c0006"/>
<circle cx="732.1" cy="944.0" r="7.1" fill="#cc0033" stroke="#1c0006"/>
<circle cx="757.5" cy="971.3" r="7.1" fill="#cc0033" stroke="#1c0006"/>
<circle cx="726.3" cy="1037.0" r="7.1" fill="#cc0033" stroke="#1c0006"/>
<circle cx="744.8" cy="1062.6" r="7.1" fill="#cc0033" stroke="#1c0006"/>
<circle cx="914.0" cy="1054.9" r="7.1" fill="#cc0033" stroke="#1c0006"/>
<circle cx="919.4" cy="506.0" r="7.1" fill="#3300cc" stroke="#07001c"/>
<circle cx="977.6" cy="476.6" r="7.1" fill="#ffff00" stroke="#1c1c04"/>
<circle cx="1014.5" cy="476.6" r="7.1" fill="#ffff00" stroke="#1c1c04"/>
<circle cx="1021.1" cy="473.7" r="7.1" fill="#ffff00" stroke="#1c1c04"/>
<circle cx="1028.4" cy="469.3" r="7.1" fill="#3300cc" stroke="#07001c"/>
<circle cx="1004.9" cy="494.7" r="7.1" fill="#3300cc" stroke="#07001c"/>
<circle cx="1003.1" cy="508.1" r="7.1" fill="#3300cc" stroke="#07001c"/>
<circle cx="1037.7" cy="487.2" r="7.1" fill="#3300cc" stroke="#07001c"/>
<circle cx="1036.0" cy="502.2" r="7.1" fill="#3300cc" stroke="#07001c"/>
<circle cx="1044.5" cy="519.8" r="7.1" fill="#3300cc" stroke="#07001c"/>
<circle cx="1056.2" cy="517.0" r="7.1" fill="#3300cc" stroke="#07001c"/>
<circle cx="1035.9" cy="522.2" r="7.1" fill="#3300cc" stroke="#07001c"/>
<circle cx="1077.6" cy="509.4" r="7.1" fill="#3300cc" stroke="#07001c"/>
<circle cx="1108.6" cy="512.8" r="7.1" fill="#ffff00" stroke="#1c1c04"/>
<circle cx="975.9" cy="526.4" r="7.1" fill="#ffff00" stroke="#1c1c04"/>
<circle cx="910.6" cy="554.9" r="7.1" fill="#ffff00" stroke="#1c1c04"/>
<circle cx="906.5" cy="545.5" r="7.1" fill="#880088" stroke="#140014"/>
<circle cx="941.2" cy="551.7" r="7.1" fill="#3300cc" stroke="#07001c"/>
<circle cx="1005.9" cy="541.2" r="7.1" fill="#3300cc" stroke="#07001c"/>
<circle cx="997.4" cy="537.0" r="7.1" fill="#3300cc" stroke="#07001c"/>
<circle cx="1012.4" cy="546.3" r="7.1" fill="#3300cc" stroke="#07001c"/>
<circle cx="997.4" cy="562.4" r="7.1" fill="#3300cc" stroke="#07001c"/>
<circle cx="1014.1" cy="562.7" r="7.1" fill="#3300cc" stroke="#07001c"/>
<circle cx="952.1" cy="573.6" r="7.1" fill="#3300cc" stroke="#07001c"/>
<circle cx="935.7" cy="587.4" r="7.1" fill="#3300cc" stroke="#07001c"/>
<circle cx="941.2" cy="592.2" r="7.1" fill="#3300cc" stroke="#07001c"/>
<circle cx="990.2" cy="592.2" r="7.1" fill="#3300cc" stroke="#07001c"/>
<circle cx="1001.1" cy="582.6" r="7.1" fill="#3300cc" stroke="#07001c"/>
<circle cx="1026.4" cy="578.1" r="7.1" fill="#3300cc" stroke="#07001c"/>
<circle cx="1028.4" cy="588.0" r="7.1" fill="#3300cc" stroke="#07001c"/>
<circle cx="1054.0" cy="534.0" r="7.1" fill="#ffff00" stroke="#1c1c04"/>
<circle cx="1035.0" cy="543.0" r="7.1" fill="#3300cc" stroke="#07001c"/>
<circle cx="1057.4" cy="545.2" r="7.1" fill="#3300cc" stroke="#07001c"/>
<circle cx="1043.0" cy="549.8" r="7.1" fill="#3300cc" stroke="#07001c"/>
<circle cx="1061.4" cy="552.3" r="7.1" fill="#3300cc" stroke="#07001c"/>
<circle cx="1071.8" cy="560.9" r="7.1" fill="#3300cc" stroke="#07001c"/>
<circle cx="1037.5" cy="560.2" r="7.1" fill="#3300cc" stroke="#07001c"/>
<circle cx="1063.4" cy="562.8" r="7.1" fill="#3300cc" stroke="#07001c"/>
<circle cx="1076.3" cy="547.9" r="7.1" fill="#ffff00" stroke="#1c1c04"/>
<circle cx="1050.3" cy="569.9" r="7.1" fill="#3300cc" stroke="#07001c"/>
<circle cx="1101.4" cy="551.7" r="7.1" fill="#3300cc" stroke="#07001c"/>
<circle cx="1143.4" cy="537.0" r="7.1" fill="#3300cc" stroke="#07001c"/>
<circle cx="1122.6" cy="570.6" r="7.1" fill="#ffff00" stroke="#1c1c04"/>
<circle cx="1117.8" cy="577.4" r="7.1" fill="#3300cc" stroke="#07001c"/>
<circle cx="1143.4" cy="571.6" r="7.1" fill="#3300cc" stroke="#07001c"/>
<circle cx="1134.2" cy="590.1" r="7.1" fill="#3300cc" stroke="#07001c"/>
<circle cx="1054.1" cy="595.2" r="7.1" fill="#3300cc" stroke="#07001c"/>
<circle cx="960.9" cy="610.9" r="7.1" fill="#3300cc" stroke="#07001c"/>
<circle cx="959.2" cy="615.7" r="7.1" fill="#3300cc" stroke="#07001c"/>
<circle cx="992.3" cy="611.2" r="7.1" fill="#880088" stroke="#140014"/>
<circle cx="997.0" cy="609.8" r="7.1" fill="#3300cc" stroke="#07001c"/>
<circle cx="979.0" cy="617.4" r="7.1" fill="#880088" stroke="#140014"/>
<circle cx="995.7" cy="615.7" r="7.1" fill="#3300cc" stroke="#07001c"/>
<circle cx="1006.6" cy="640.6" r="7.1" fill="#3300cc" stroke="#07001c"/>
<circle cx="1014.4" cy="633.5" r="7.1" fill="#3300cc" stroke="#07001c"/>
<circle cx="1010.0" cy="622.8" r="7.1" fill="#880088" stroke="#140014"/>
<circle cx="946.6" cy="646.8" r="7.1" fill="#3300cc" stroke="#07001c"/>
<circle cx="984.8" cy="665.0" r="7.1" fill="#3300cc" stroke="#07001c"/>
<circle cx="990.6" cy="657.4" r="7.1" fill="#3300cc" stroke="#07001c"/>
<circle cx="968.4" cy="666.7" r="7.1" fill="#3300cc" stroke="#07001c"/>
<circle cx="999.1" cy="671.5" r="7.1" fill="#3300cc" stroke="#07001c"/>
<circle cx="1012.4" cy="667.7" r="7.1" fill="#3300cc" stroke="#07001c"/>
<circle cx="1027.7" cy="627.0" r="7.1" fill="#3300cc" stroke="#07001c"/>
<circle cx="1038.1" cy="609.8" r="7.1" fill="#3300cc" stroke="#07001c"/>
<circle cx="1030.4" cy="611.5" r="7.1" fill="#3300cc" stroke="#07001c"/>
<circle cx="1035.6" cy="621.4" r="7.1" fill="#3300cc" stroke="#07001c"/>
<circle cx="1072.1" cy="617.7" r="7.1" fill="#3300cc" stroke="#07001c"/>
<circle cx="1100.1" cy="614.3" r="7.1" fill="#3300cc" stroke="#07001c"/>
<circle cx="1090.2" cy="608.5" r="7.1" fill="#3300cc" stroke="#07001c"/>
<circle cx="1137.9" cy="611.9" r="7.1" fill="#3300cc" stroke="#07001c"/>
<circle cx="1117.8" cy="633.8" r="7.1" fill="#3300cc" stroke="#07001c"/>
<circle cx="1061.2" cy="661.9" r="7.1" fill="#3300cc" stroke="#07001c"/>
<circle cx="1061.2" cy="654.0" r="7.1" fill="#3300cc" stroke="#07001c"/>
<circle cx="1083.0" cy="657.1" r="7.1" fill="#3300cc" stroke="#07001c"/>
<circle cx="1081.0" cy="665.0" r="7.1" fill="#3300cc" stroke="#07001c"/>
<circle cx="1067.0" cy="671.8" r="7.1" fill="#3300cc" stroke="#07001c"/>
<circle cx="1113.0" cy="665.6" r="7.1" fill="#3300cc" stroke="#07001c"/>
<circle cx="1106.2" cy="669.4" r="7.1" fill="#3300cc" stroke="#07001c"/>
<circle cx="1106.9" cy="653.7" r="7.1" fill="#3300cc" stroke="#07001c"/>
<circle cx="1097.4" cy="671.5" r="7.1" fill="#3300cc" stroke="#07001c"/>
<circle cx="1145.1" cy="659.5" r="7.1" fill="#3300cc" stroke="#07001c"/>
<circle cx="1037.4" cy="673.9" r="7.1" fill="#ffff00" stroke="#1c1c04"/>
</g>
</g>
<g fill="none" stroke="#26262c">
<rect x="899.6" y="466.2" width="267.3" height="211.4" stroke-width="3.3"/>
<path d="M1167 466.2L1792 171.5" stroke-width="3" stroke="#2c2c32"/>
<path d="M1167 677L1781 985" stroke-width="3" stroke="#2c2c32"/>
</g>
<g clip-path="url(#cb)"><g filter="url(#bl2)">
<rect x="1776" y="152.5" width="896.6" height="842" fill="url(#gb)"/>
<g stroke="#989898" stroke-width="9" fill="none" stroke-dasharray="18.5 21.5">
<path d="M1958.0 137.5V1009.5" stroke-dashoffset="-7.5"/>
<path d="M2177.5 137.5V1009.5" stroke-dashoffset="-7.5"/>
<path d="M2391.0 137.5V1009.5" stroke-dashoffset="-7.5"/>
<path d="M2611.0 137.5V1009.5" stroke-dashoffset="-7.5"/>
<path d="M1761.0 359.0H2687.6" stroke-dashoffset="-14.0"/>
<path d="M1761.0 573.0H2687.6" stroke-dashoffset="-14.0"/>
<path d="M1761.0 793.0H2687.6" stroke-dashoffset="-14.0"/>
</g>
<path d="M2595 154.5Q2636 178 2672 204.5" stroke="#2e2e36" stroke-width="7" fill="none" stroke-dasharray="15 4"/>
<g fill="#fff" fill-opacity="0.22">
<use href="#hb" x="1817.5" y="379.8"/>
<use href="#hb" x="2031.0" y="272.4"/>
<use href="#hb" x="2166.0" y="272.5"/>
<use href="#hb" x="2190.5" y="262.0"/>
<use href="#hb" x="2217.0" y="246.0"/>
<use href="#hb" x="2131.0" y="338.5"/>
<use href="#hb" x="2124.5" y="387.5"/>
<use href="#hb" x="2251.2" y="311.1"/>
<use href="#hb" x="2245.0" y="366.0"/>
<use href="#hb" x="2276.0" y="430.0"/>
<use href="#hb" x="2318.8" y="420.0"/>
<use href="#hb" x="2244.7" y="439.0"/>
<use href="#hb" x="2397.3" y="392.3"/>
<use href="#hb" x="2511.0" y="404.7"/>
<use href="#hb" x="2024.8" y="454.2"/>
<use href="#hb" x="1785.5" y="558.0"/>
<use href="#hb" x="1770.5" y="524.0"/>
<use href="#hb" x="1897.4" y="546.6"/>
<use href="#hb" x="2134.6" y="508.0"/>
<use href="#hb" x="2103.4" y="493.0"/>
<use href="#hb" x="2158.4" y="526.7"/>
<use href="#hb" x="2103.4" y="585.3"/>
<use href="#hb" x="2164.6" y="586.6"/>
<use href="#hb" x="1937.3" y="626.5"/>
<use href="#hb" x="1877.4" y="676.5"/>
<use href="#hb" x="1897.4" y="694.0"/>
<use href="#hb" x="2077.2" y="694.0"/>
<use href="#hb" x="2117.2" y="659.0"/>
<use href="#hb" x="2209.6" y="642.8"/>
<use href="#hb" x="2217.0" y="679.0"/>
<use href="#hb" x="2311.0" y="482.0"/>
<use href="#hb" x="2241.4" y="514.6"/>
<use href="#hb" x="2323.2" y="522.7"/>
<use href="#hb" x="2270.5" y="539.7"/>
<use href="#hb" x="2337.9" y="548.5"/>
<use href="#hb" x="2376.0" y="580.0"/>
<use href="#hb" x="2250.3" y="577.5"/>
<use href="#hb" x="2345.3" y="586.8"/>
<use href="#hb" x="2392.5" y="532.5"/>
<use href="#hb" x="2297.5" y="613.0"/>
<use href="#hb" x="2484.7" y="546.6"/>
<use href="#hb" x="2638.3" y="493.0"/>
<use href="#hb" x="2562.2" y="615.3"/>
<use href="#hb" x="2544.7" y="640.3"/>
<use href="#hb" x="2638.3" y="619.0"/>
<use href="#hb" x="2604.6" y="686.5"/>
<use href="#hb" x="2311.2" y="705.2"/>
<use href="#hb" x="1969.8" y="762.2"/>
<use href="#hb" x="1963.6" y="779.7"/>
<use href="#hb" x="2084.7" y="763.5"/>
<use href="#hb" x="2102.0" y="758.5"/>
<use href="#hb" x="2036.0" y="785.9"/>
<use href="#hb" x="2097.2" y="779.7"/>
<use href="#hb" x="2137.1" y="870.8"/>
<use href="#hb" x="2165.9" y="844.6"/>
<use href="#hb" x="2149.6" y="805.9"/>
<use href="#hb" x="1917.4" y="893.3"/>
<use href="#hb" x="2057.2" y="959.5"/>
<use href="#hb" x="2078.4" y="932.0"/>
<use href="#hb" x="1997.3" y="965.8"/>
<use href="#hb" x="2109.7" y="983.2"/>
<use href="#hb" x="2158.4" y="969.5"/>
<use href="#hb" x="2214.6" y="820.9"/>
<use href="#hb" x="2252.5" y="758.5"/>
<use href="#hb" x="2224.5" y="764.7"/>
<use href="#hb" x="2243.5" y="800.5"/>
<use href="#hb" x="1757.5" y="967.0"/>
<use href="#hb" x="2377.3" y="787.2"/>
<use href="#hb" x="2479.7" y="774.7"/>
<use href="#hb" x="2443.5" y="753.5"/>
<use href="#hb" x="2618.4" y="766.0"/>
<use href="#hb" x="2544.7" y="845.9"/>
<use href="#hb" x="2337.4" y="948.3"/>
<use href="#hb" x="2337.4" y="919.5"/>
<use href="#hb" x="2417.3" y="930.8"/>
<use href="#hb" x="2409.8" y="959.5"/>
<use href="#hb" x="2358.6" y="984.5"/>
<use href="#hb" x="2527.2" y="962.0"/>
<use href="#hb" x="2502.2" y="975.7"/>
<use href="#hb" x="2504.7" y="918.3"/>
<use href="#hb" x="2469.8" y="983.2"/>
<use href="#hb" x="2644.6" y="939.5"/>
<use href="#hb" x="2250.0" y="992.0"/>
</g>
<g transform="translate(1817.5 379.8)"><use href="#ob" fill="#000"/><use href="#ib" fill="#3300d6"/></g>
<g transform="translate(2031.0 272.4)"><use href="#ob" fill="#000"/><use href="#ib" fill="#ffff00"/></g>
<g transform="translate(2166.0 272.5)"><use href="#ob" fill="#000"/><use href="#ib" fill="#ffff00"/></g>
<g transform="translate(2190.5 262.0)"><use href="#ob" fill="#000"/><use href="#ib" fill="#ffff00"/></g>
<g transform="translate(2217.0 246.0)"><use href="#ob" fill="#000"/><use href="#ib" fill="#3300d6"/></g>
<g transform="translate(2131.0 338.5)"><use href="#ob" fill="#000"/><use href="#ib" fill="#3300d6"/></g>
<g transform="translate(2124.5 387.5)"><use href="#ob" fill="#000"/><use href="#ib" fill="#3300d6"/></g>
<g transform="translate(2251.2 311.1)"><use href="#ob" fill="#000"/><use href="#ib" fill="#3300d6"/></g>
<g transform="translate(2245.0 366.0)"><use href="#ob" fill="#000"/><use href="#ib" fill="#3300d6"/></g>
<g transform="translate(2276.0 430.0)"><use href="#ob" fill="#000"/><use href="#ib" fill="#3300d6"/></g>
<g transform="translate(2318.8 420.0)"><use href="#ob" fill="#000"/><use href="#ib" fill="#3300d6"/></g>
<g transform="translate(2244.7 439.0)"><use href="#ob" fill="#000"/><use href="#ib" fill="#3300d6"/></g>
<g transform="translate(2397.3 392.3)"><use href="#ob" fill="#000"/><use href="#ib" fill="#3300d6"/></g>
<g transform="translate(2511.0 404.7)"><use href="#ob" fill="#000"/><use href="#ib" fill="#ffff00"/></g>
<g transform="translate(2024.8 454.2)"><use href="#ob" fill="#000"/><use href="#ib" fill="#ffff00"/></g>
<g transform="translate(1785.5 558.0)"><use href="#ob" fill="#000"/><use href="#ib" fill="#ffff00"/></g>
<g transform="translate(1770.5 524.0)"><use href="#ob" fill="#000"/><use href="#ib" fill="#8c008c"/></g>
<g transform="translate(1897.4 546.6)"><use href="#ob" fill="#000"/><use href="#ib" fill="#3300d6"/></g>
<g transform="translate(2134.6 508.0)"><use href="#ob" fill="#000"/><use href="#ib" fill="#3300d6"/></g>
<g transform="translate(2103.4 493.0)"><use href="#ob" fill="#000"/><use href="#ib" fill="#3300d6"/></g>
<g transform="translate(2158.4 526.7)"><use href="#ob" fill="#000"/><use href="#ib" fill="#3300d6"/></g>
<g transform="translate(2103.4 585.3)"><use href="#ob" fill="#000"/><use href="#ib" fill="#3300d6"/></g>
<g transform="translate(2164.6 586.6)"><use href="#ob" fill="#000"/><use href="#ib" fill="#3300d6"/></g>
<g transform="translate(1937.3 626.5)"><use href="#ob" fill="#000"/><use href="#ib" fill="#3300d6"/></g>
<g transform="translate(1877.4 676.5)"><use href="#ob" fill="#000"/><use href="#ib" fill="#3300d6"/></g>
<g transform="translate(1897.4 694.0)"><use href="#ob" fill="#000"/><use href="#ib" fill="#3300d6"/></g>
<g transform="translate(2077.2 694.0)"><use href="#ob" fill="#000"/><use href="#ib" fill="#3300d6"/></g>
<g transform="translate(2117.2 659.0)"><use href="#ob" fill="#000"/><use href="#ib" fill="#3300d6"/></g>
<g transform="translate(2209.6 642.8)"><use href="#ob" fill="#000"/><use href="#ib" fill="#3300d6"/></g>
<g transform="translate(2217.0 679.0)"><use href="#ob" fill="#000"/><use href="#ib" fill="#3300d6"/></g>
<g transform="translate(2311.0 482.0)"><use href="#ob" fill="#000"/><use href="#ib" fill="#ffff00"/></g>
<g transform="translate(2241.4 514.6)"><use href="#ob" fill="#000"/><use href="#ib" fill="#3300d6"/></g>
<g transform="translate(2323.2 522.7)"><use href="#ob" fill="#000"/><use href="#ib" fill="#3300d6"/></g>
<g transform="translate(2270.5 539.7)"><use href="#ob" fill="#000"/><use href="#ib" fill="#3300d6"/></g>
<g transform="translate(2337.9 548.5)"><use href="#ob" fill="#000"/><use href="#ib" fill="#3300d6"/></g>
<g transform="translate(2376.0 580.0)"><use href="#ob" fill="#000"/><use href="#ib" fill="#3300d6"/></g>
<g transform="translate(2250.3 577.5)"><use href="#ob" fill="#000"/><use href="#ib" fill="#3300d6"/></g>
<g transform="translate(2345.3 586.8)"><use href="#ob" fill="#000"/><use href="#ib" fill="#3300d6"/></g>
<g transform="translate(2392.5 532.5)"><use href="#ob" fill="#000"/><use href="#ib" fill="#ffff00"/></g>
<g transform="translate(2297.5 613.0)"><use href="#ob" fill="#000"/><use href="#ib" fill="#3300d6"/></g>
<g transform="translate(2484.7 546.6)"><use href="#ob" fill="#000"/><use href="#ib" fill="#3300d6"/></g>
<g transform="translate(2638.3 493.0)"><use href="#ob" fill="#000"/><use href="#ib" fill="#3300d6"/></g>
<g transform="translate(2562.2 615.3)"><use href="#ob" fill="#000"/><use href="#ib" fill="#ffff00"/></g>
<g transform="translate(2544.7 640.3)"><use href="#ob" fill="#000"/><use href="#ib" fill="#3300d6"/></g>
<g transform="translate(2638.3 619.0)"><use href="#ob" fill="#000"/><use href="#ib" fill="#3300d6"/></g>
<g transform="translate(2604.6 686.5)"><use href="#ob" fill="#000"/><use href="#ib" fill="#3300d6"/></g>
<g transform="translate(2311.2 705.2)"><use href="#ob" fill="#000"/><use href="#ib" fill="#3300d6"/></g>
<g transform="translate(1969.8 762.2)"><use href="#ob" fill="#000"/><use href="#ib" fill="#3300d6"/></g>
<g transform="translate(1963.6 779.7)"><use href="#ob" fill="#000"/><use href="#ib" fill="#3300d6"/></g>
<g transform="translate(2084.7 763.5)"><use href="#ob" fill="#000"/><use href="#ib" fill="#8c008c"/></g>
<g transform="translate(2102.0 758.5)"><use href="#ob" fill="#000"/><use href="#ib" fill="#3300d6"/></g>
<g transform="translate(2036.0 785.9)"><use href="#ob" fill="#000"/><use href="#ib" fill="#8c008c"/></g>
<g transform="translate(2097.2 779.7)"><use href="#ob" fill="#000"/><use href="#ib" fill="#3300d6"/></g>
<g transform="translate(2137.1 870.8)"><use href="#ob" fill="#000"/><use href="#ib" fill="#3300d6"/></g>
<g transform="translate(2165.9 844.6)"><use href="#ob" fill="#000"/><use href="#ib" fill="#3300d6"/></g>
<g transform="translate(2149.6 805.9)"><use href="#ob" fill="#000"/><use href="#ib" fill="#8c008c"/></g>
<g transform="translate(1917.4 893.3)"><use href="#ob" fill="#000"/><use href="#ib" fill="#3300d6"/></g>
<g transform="translate(2057.2 959.5)"><use href="#ob" fill="#000"/><use href="#ib" fill="#3300d6"/></g>
<g transform="translate(2078.4 932.0)"><use href="#ob" fill="#000"/><use href="#ib" fill="#3300d6"/></g>
<g transform="translate(1997.3 965.8)"><use href="#ob" fill="#000"/><use href="#ib" fill="#3300d6"/></g>
<g transform="translate(2109.7 983.2)"><use href="#ob" fill="#000"/><use href="#ib" fill="#3300d6"/></g>
<g transform="translate(2158.4 969.5)"><use href="#ob" fill="#000"/><use href="#ib" fill="#3300d6"/></g>
<g transform="translate(2214.6 820.9)"><use href="#ob" fill="#000"/><use href="#ib" fill="#3300d6"/></g>
<g transform="translate(2252.5 758.5)"><use href="#ob" fill="#000"/><use href="#ib" fill="#3300d6"/></g>
<g transform="translate(2224.5 764.7)"><use href="#ob" fill="#000"/><use href="#ib" fill="#3300d6"/></g>
<g transform="translate(2243.5 800.5)"><use href="#ob" fill="#000"/><use href="#ib" fill="#3300d6"/></g>
<g transform="translate(1757.5 967.0)"><use href="#ob" fill="#000"/><use href="#ib" fill="#000"/></g>
<g transform="translate(2377.3 787.2)"><use href="#ob" fill="#000"/><use href="#ib" fill="#3300d6"/></g>
<g transform="translate(2479.7 774.7)"><use href="#ob" fill="#000"/><use href="#ib" fill="#3300d6"/></g>
<g transform="translate(2443.5 753.5)"><use href="#ob" fill="#000"/><use href="#ib" fill="#3300d6"/></g>
<g transform="translate(2618.4 766.0)"><use href="#ob" fill="#000"/><use href="#ib" fill="#3300d6"/></g>
<g transform="translate(2544.7 845.9)"><use href="#ob" fill="#000"/><use href="#ib" fill="#3300d6"/></g>
<g transform="translate(2337.4 948.3)"><use href="#ob" fill="#000"/><use href="#ib" fill="#3300d6"/></g>
<g transform="translate(2337.4 919.5)"><use href="#ob" fill="#000"/><use href="#ib" fill="#3300d6"/></g>
<g transform="translate(2417.3 930.8)"><use href="#ob" fill="#000"/><use href="#ib" fill="#3300d6"/></g>
<g transform="translate(2409.8 959.5)"><use href="#ob" fill="#000"/><use href="#ib" fill="#3300d6"/></g>
<g transform="translate(2358.6 984.5)"><use href="#ob" fill="#000"/><use href="#ib" fill="#3300d6"/></g>
<g transform="translate(2527.2 962.0)"><use href="#ob" fill="#000"/><use href="#ib" fill="#3300d6"/></g>
<g transform="translate(2502.2 975.7)"><use href="#ob" fill="#000"/><use href="#ib" fill="#3300d6"/></g>
<g transform="translate(2504.7 918.3)"><use href="#ob" fill="#000"/><use href="#ib" fill="#3300d6"/></g>
<g transform="translate(2469.8 983.2)"><use href="#ob" fill="#000"/><use href="#ib" fill="#3300d6"/></g>
<g transform="translate(2644.6 939.5)"><use href="#ob" fill="#000"/><use href="#ib" fill="#3300d6"/></g>
<g transform="translate(2250.0 992.0)"><use href="#ob" fill="#000"/><use href="#ib" fill="#ffff00"/></g>
</g></g>
<path d="M1770 181.9L1792 171.5" stroke="#2c2c32" stroke-width="3"/>
<text class="ser" x="38.6" y="105">(</text><text class="ser" font-weight="bold" x="67.3" y="105">A</text><text class="ser" x="130.6" y="105">)</text>
<text class="ser" x="1751.5" y="105">(</text><text class="ser" font-weight="bold" transform="translate(1780.6 105) scale(0.887 1)">B</text><text class="ser" x="1833.6" y="105">)</text>
<g filter="url(#bl)">
<text class="san" x="778" y="276.3" font-size="29.1" text-anchor="middle">PLS t/t (BBB model)</text>
<text class="san" x="776.8" y="305.5" font-size="21" text-anchor="middle">LV1 vs LV2</text>
<text class="san" transform="translate(118.5 329.4) scale(0.86 1)" font-size="20.4" text-anchor="end">15</text>
<text class="san" transform="translate(118.5 448.1) scale(0.86 1)" font-size="20.4" text-anchor="end">10</text>
<text class="san" transform="translate(118.5 566.9) scale(0.86 1)" font-size="20.4" text-anchor="end">5</text>
<text class="san" transform="translate(118.5 685.6) scale(0.86 1)" font-size="20.4" text-anchor="end">0</text>
<text class="san" transform="translate(118.5 804.4) scale(0.86 1)" font-size="20.4" text-anchor="end">-5</text>
<text class="san" transform="translate(118.5 923.1) scale(0.86 1)" font-size="20.4" text-anchor="end">-10</text>
<text class="san" transform="translate(118.5 1041.9) scale(0.86 1)" font-size="20.4" text-anchor="end">-15</text>
<text class="san" font-size="18.6" transform="translate(178.9 1117) rotate(90)">-30</text>
<text class="san" font-size="18.6" transform="translate(297.7 1117) rotate(90)">-25</text>
<text class="san" font-size="18.6" transform="translate(416.5 1117) rotate(90)">-20</text>
<text class="san" font-size="18.6" transform="translate(535.3 1117) rotate(90)">-15</text>
<text class="san" font-size="18.6" transform="translate(654.1 1117) rotate(90)">-10</text>
<text class="san" font-size="18.6" transform="translate(772.9 1117) rotate(90)">-5</text>
<text class="san" font-size="18.6" transform="translate(891.7 1117) rotate(90)">0</text>
<text class="san" font-size="18.6" transform="translate(1010.5 1117) rotate(90)">5</text>
<text class="san" font-size="18.6" transform="translate(1129.3 1117) rotate(90)">10</text>
<text class="san" font-size="18.6" transform="translate(1248.1 1117) rotate(90)">15</text>
<text class="san" font-size="18.6" transform="translate(1366.9 1117) rotate(90)">20</text>
<text class="san" x="777.5" y="1200.5" font-size="22.3" text-anchor="middle">t [1]</text>
<text class="san" font-size="16.5" text-anchor="middle" transform="translate(51 727.3) rotate(-90) scale(1.3 1)">t [2]</text>
</g>
</svg></body></html>
